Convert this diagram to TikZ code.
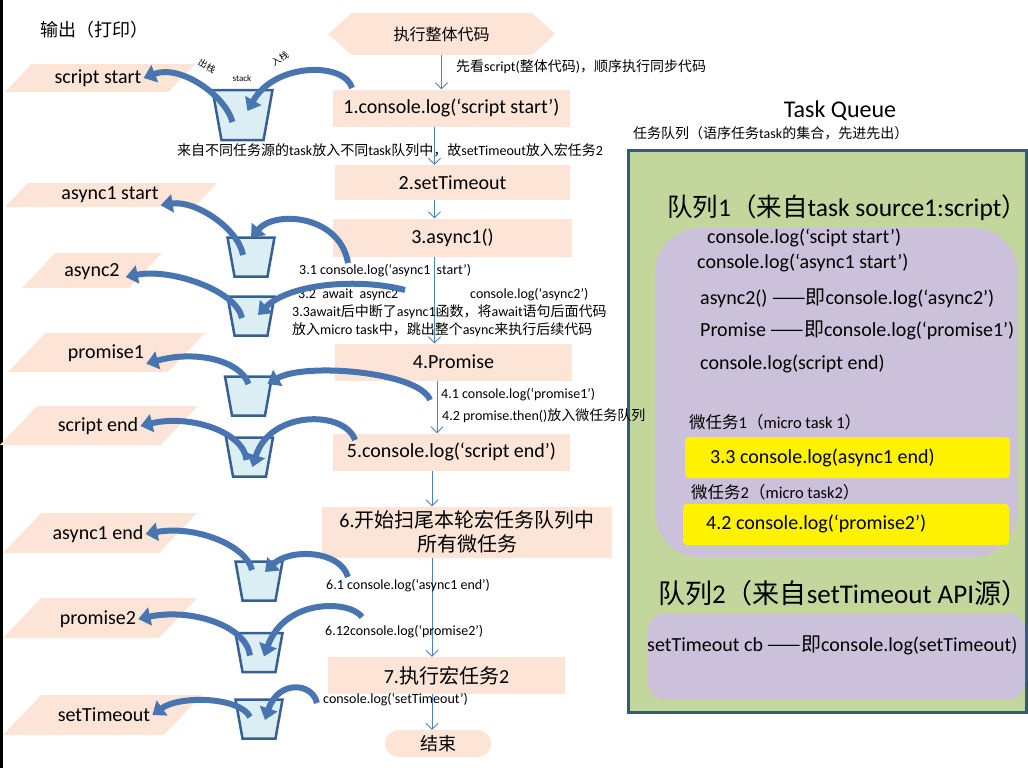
\documentclass[tikz,border=0pt]{standalone}
\usepackage{fontspec}
\setmainfont{Carlito}
\newfontfamily\cjk{Noto Sans CJK SC}
\newcommand{\zh}[1]{{\cjk #1}}
\usetikzlibrary{arrows.meta,shapes.geometric}

\definecolor{peach}{RGB}{252,229,214}
\definecolor{cupfill}{RGB}{219,238,244}
\definecolor{cupline}{RGB}{55,96,146}
\definecolor{bandblue}{RGB}{72,116,176}
\definecolor{flowblue}{RGB}{79,129,189}
\definecolor{qgreen}{RGB}{195,214,155}
\definecolor{qborder}{RGB}{56,87,121}
\definecolor{qpurple}{RGB}{204,193,218}

\newcommand{\outbar}[4]{\fill[peach] ({#1+0.95*(#4-#2)},#2) -- (#3,#2) -- ({#3-0.95*(#4-#2)},#4) -- (#1,#4) -- cycle;}

\begin{document}
\begin{tikzpicture}[x=1pt, y=-1pt,
    box/.style={rectangle, fill=peach, minimum width=237pt, minimum height=37pt, align=center, font=\fontsize{20}{24}\selectfont},
    outtxt/.style={inner sep=2pt, font=\fontsize{20}{24}\selectfont},
    cup/.style={trapezium, shape border rotate=180, trapezium stretches=true, trapezium angle=78, minimum width=47pt, minimum height=39pt, fill=cupfill, draw=cupline, line width=2.5pt},
    band/.style={draw=bandblue, line width=6pt, -{Triangle[length=12pt,width=18pt]}},
    flow/.style={draw=flowblue, line width=0.8pt, -{Straight Barb[length=6pt,width=12pt]}},
    note/.style={anchor=west, inner sep=0pt, font=\fontsize{14}{17}\selectfont},
    qline/.style={anchor=west, inner sep=0pt, font=\fontsize{20}{24}\selectfont},
    qtitle/.style={anchor=west, inner sep=0pt, font=\fontsize{25.5}{30}\selectfont},
    mtitle/.style={anchor=west, inner sep=0pt, font=\fontsize{16.5}{19}\selectfont}
]
    \useasboundingbox (0,0) rectangle (1028,768);
    \fill[black] (0,0) rectangle (3,768);

    \node[rectangle, fill=qgreen, draw=qborder, line width=3pt, minimum width=398pt, minimum height=562pt] (tq) at (827,431) {};
    \node[font=\fontsize{24}{28}\selectfont] (tqt) at (840,111) {Task Queue};
    \node[note] (tqs) at (633,133) {\zh{任务队列（语序任务}task\zh{的集合，先进先出）}};
    \node[fill=qpurple, rounded corners=45pt, minimum width=363pt, minimum height=329pt] (p1) at (836.5,392.5) {};
    \node[qtitle] (q1t) at (667,208) {\zh{队列}1\zh{（来自}task source1:script\zh{）}};
    \node[qline] (c1) at (707,238) {console.log(‘scipt start’)};
    \node[qline] (c2) at (697,263) {console.log(‘async1 start’)};
    \node[qline] (c3) at (700,298) {async2() \zh{——即}console.log(‘async2’)};
    \node[qline] (c4) at (700,330) {Promise \zh{——即}console.log(‘promise1’)};
    \node[qline] (c5) at (700,364) {console.log(script end)};
    \node[mtitle] (m1t) at (689,422) {\zh{微任务}1\zh{（}micro task 1\zh{）}};
    \node[fill=yellow, rounded corners=4pt, minimum width=325pt, minimum height=41pt] (y1) at (847.5,457.5) {};
    \node[qline] (m1) at (710,458) {3.3 console.log(async1 end)};
    \node[mtitle] (m2t) at (691,492) {\zh{微任务}2\zh{（}micro task2\zh{）}};
    \node[fill=yellow, rounded corners=4pt, minimum width=326pt, minimum height=41pt] (y2) at (846,524.5) {};
    \node[qline] (m2) at (706,524) {4.2 console.log(‘promise2’)};
    \node[qtitle, font=\fontsize{27}{32}\selectfont] (q2t) at (658,593) {\zh{队列}2\zh{（来自}setTimeout API\zh{源）}};
    \node[fill=qpurple, rounded corners=18pt, minimum width=377pt, minimum height=87pt] (p2) at (836.5,656.5) {};
    \node[qline] (c6) at (647,645) {setTimeout cb \zh{——即}console.log(setTimeout)};

    \node[anchor=west, font=\fontsize{18}{22}\selectfont\cjk] (outt) at (37,30) {输出（打印）};
    \outbar{5}{64}{195}{92}
    \outbar{5}{183}{217}{207}
    \outbar{22}{253}{162}{288}
    \outbar{8}{333}{205}{372}
    \outbar{0}{406}{198}{445}
    \outbar{3}{513}{197}{553}
    \outbar{3}{598}{197}{638}
    \outbar{3}{695}{202}{735}
    \node[outtxt] (o1) at (98,78) {script start};
    \node[outtxt] (o2) at (110,195) {async1 start};
    \node[outtxt] (o3) at (92,272) {async2};
    \node[outtxt] (o4) at (106,353) {promise1};
    \node[outtxt] (o5) at (98,426) {script end};
    \node[outtxt] (o6) at (98,534) {async1 end};
    \node[outtxt] (o7) at (98,619) {promise2};
    \node[outtxt] (o8) at (104,715) {setTimeout};

    \fill[peach] (328,34) -- (352,13) -- (532,13) -- (555,34) -- (532,55) -- (352,55) -- cycle;
    \node[minimum height=42pt, font=\fontsize{16}{20}\selectfont\cjk] (start) at (441.5,34) {执行整体代码};
    \node[box] (b1) at (451.5,108) {1.console.log(‘script start’)};
    \node[box, minimum width=235pt, minimum height=35pt] (b2) at (452.5,182.5) {2.setTimeout};
    \node[box, minimum width=239pt, minimum height=38pt] (b3) at (452.5,237.5) {3.async1()};
    \node[box] (b4) at (453.5,362) {4.Promise};
    \node[box] (b5) at (451.5,452) {5.console.log(‘script end’)};
    \node[box, minimum width=290pt, minimum height=51pt] (b6) at (467,532) {6.\zh{开始扫尾本轮宏任务队列中}\\\zh{所有微任务}};
    \node[box] (b7) at (446.5,675.5) {7.\zh{执行宏任务}2};
    \node[box, minimum width=106pt, minimum height=27pt, rounded corners=13.5pt, font=\fontsize{18}{22}\selectfont] (end) at (438,743.5) {\zh{结束}};

    \draw[flow] (start.south) -- (start.south |- b1.north);
    \draw[flow] ([xshift=-17]b1.south) -- ([xshift=-17]b1.south |- b2.north);
    \draw[flow] ([xshift=-18]b2.south) -- ([xshift=-18]b2.south |- b3.north);
    \draw[flow] ([xshift=-18]b3.south) -- ([xshift=-18]b3.south |- b4.north);
    \draw[flow] ([xshift=-16.5]b4.south) -- ([xshift=-16.5]b4.south |- b5.north);
    \draw[flow] ([xshift=-19.5]b5.south) -- ([xshift=-19.5]b5.south |- b6.north);
    \draw[flow] ([xshift=-35]b6.south) -- ([xshift=-35]b6.south |- b7.north);
    \draw[flow] ([xshift=-14.5]b7.south) -- ([xshift=-14.5]b7.south |- end.north);

    \node[note] (l0) at (456,67) {\zh{先看}script(\zh{整体代码})\zh{，顺序执行同步代码}};
    \node[note] (l1) at (177,150) {\zh{来自不同任务源的}task\zh{放入不同}task\zh{队列中，故}setTimeout\zh{放入宏任务}2};
    \node[note] (l31) at (299,271) {3.1 console.log(‘async1~~start’)};
    \node[note] (l32) at (298,295) {3.2~~await~~async2};
    \node[note] (l32b) at (470,295) {console.log(‘async2’)};
    \node[note, anchor=north west, align=left, font=\fontsize{14}{18}\selectfont] (l33) at (292,305) {3.3await\zh{后中断了}async1\zh{函数，将}await\zh{语句后面代码}\\\zh{放入}micro task\zh{中，跳出整个}async\zh{来执行后续代码}};
    \node[note] (l41) at (441,395) {4.1 console.log(‘promise1’)};
    \node[note] (l42) at (442,416) {4.2 promise.then()\zh{放入微任务队列}};
    \node[note] (l61) at (326,586) {6.1 console.log(‘async1 end’)};
    \node[note] (l62) at (325,632) {6.12console.log(‘promise2’)};
    \node[note] (l7) at (323,700) {console.log(‘setTimeout’)};

    \node[cup, minimum width=60pt, minimum height=50pt] (s1) at (242.5,115) {};
    \node[cup] (s2) at (251,257) {};
    \node[cup] (s3) at (251,316) {};
    \node[cup] (s4) at (248.5,396) {};
    \node[cup] (s5) at (249.5,457) {};
    \node[cup] (s6) at (259,581) {};
    \node[cup] (s7) at (259,652.5) {};
    \node[cup] (s8) at (259,719) {};
    \node[rotate=-28, inner sep=1pt, font=\fontsize{9}{11}\selectfont\cjk] (popl) at (207,66) {出栈};
    \node[inner sep=1pt, font=\fontsize{9}{11}\selectfont] (stkl) at (242,78) {stack};
    \node[rotate=32, inner sep=1pt, font=\fontsize{9}{11}\selectfont\cjk] (pushl) at (280,59) {入栈};

    \coordinate (i1) at (352,88);
    \coordinate (i2) at (348,263);
    \coordinate (i3) at (405,290);
    \coordinate (i4) at (430,400);
    \coordinate (i5) at (355,440);
    \coordinate (i6) at (348,577);
    \coordinate (i7) at (362,617);
    \coordinate (i8) at (317,703);

    \draw[band] ([shift={(-10,7)}]s1.center) .. controls (225,95) and (180,64) .. (o1.east);
    \draw[band] ([shift={(-8,-2)}]s2.center) .. controls (238,228) and (195,200) .. (o2.south east);
    \draw[band] ([shift={(-9,2)}]s3.center) .. controls (236,290) and (170,268) .. ([shift={(4,5)}]o3.east);
    \draw[band] ([shift={(0,-12)}]s4.center) .. controls (240,360) and (195,350) .. (o4.south east);
    \draw[band] ([shift={(-3,3)}]s5.center) .. controls (244,432) and (190,414) .. (o5.east);
    \draw[band] ([shift={(-7,-11)}]s6.center) .. controls (246,545) and (195,525) .. (o6.east);
    \draw[band] ([shift={(-9,3)}]s7.center) .. controls (246,625) and (190,608) .. (o7.east);
    \draw[band] ([shift={(-9,-2)}]s8.center) .. controls (240,697) and (180,695) .. (o8.east);

    \draw[band] (i1) .. controls (345,62) and (275,62) .. ([shift={(5,-4)}]s1.center);
    \draw[band] (i2) .. controls (340,215) and (275,210) .. ([shift={(0,-19)}]s2.center);
    \draw[band] (i3) .. controls (360,278) and (290,283) .. ([shift={(7,-1)}]s3.center);
    \draw[band] (i4) .. controls (420,372) and (305,362) .. ([shift={(19,-12)}]s4.center);
    \draw[band] (i5) .. controls (345,410) and (270,410) .. ([shift={(3,10)}]s5.center);
    \draw[band] (i6) .. controls (340,550) and (290,548) .. ([shift={(6,-9)}]s6.center);
    \draw[band] (i7) .. controls (350,600) and (285,598) .. ([shift={(5,4)}]s7.center);
    \draw[band] (i8) .. controls (312,682) and (278,680) .. ([shift={(6,1)}]s8.center);
\end{tikzpicture}
\end{document}
